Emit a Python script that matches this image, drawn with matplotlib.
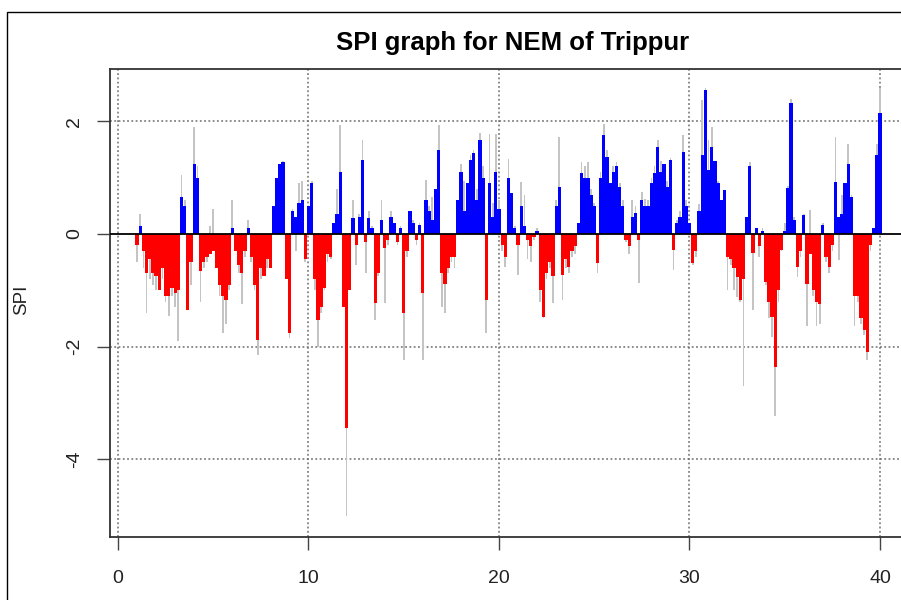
import matplotlib
matplotlib.use("Agg")
import matplotlib.pyplot as plt
from matplotlib.patches import Rectangle
import numpy as np

plt.rcParams['font.family'] = ['Liberation Sans', 'DejaVu Sans']

# SPI values, 6 per year starting at year 1.0 (colored series and grey series)
spi = [
    -0.2, 0.15, -0.3, -0.7, -0.45, -0.7,
    -0.75, -1.0, -0.6, -1.1, -1.1, -0.95,
    -1.05, -1.0, 0.65, 0.5, -1.35, -0.5,
    1.25, 1.0, -0.65, -0.5, -0.4, -0.35,
    -0.3, -0.6, -0.9, -1.1, -1.17, -0.9,
    0.1, -0.3, -0.55, -0.7, -0.3, 0.1,
    -0.4, -0.9, -1.88, -0.6, -0.75, -0.45,
    -0.6, 0.5, 1.0, 1.25, 1.28, -0.8,
    -1.76, 0.4, 0.3, 0.55, 0.6, -0.45,
    0.5, 0.9, -0.8, -1.53, -1.3, -0.95,
    -0.35, -0.4, 0.2, 0.35, 1.1, -1.3,
    -3.45, -1.0, 0.28, -0.2, 0.3, 1.31,
    -0.15, 0.28, 0.1, -1.23, -0.7, 0.25,
    -0.25, -0.1, 0.3, 0.2, -0.15, 0.1,
    -1.4, -0.3, 0.4, 0.2, -0.1, 0.16,
    -1.05, 0.6, 0.4, 0.25, 0.8, 1.5,
    -0.7, -0.88, -0.6, -0.4, -0.4, 0.6,
    1.1, 0.4, 0.9, 1.31, 1.43, 0.6,
    1.67, 1.0, -1.17, 0.9, 0.3, 1.1,
    0.45, -0.2, -0.4, 1.0, 0.72, 0.1,
    -0.2, 0.5, 0.15, -0.1, -0.22, -0.05,
    0.05, -1.0, -1.47, -0.7, -0.5, -0.75,
    0.5, 0.84, -0.73, -0.45, -0.58, -0.3,
    -0.22, 0.2, 1.08, 1.0, 1.0, 0.7,
    0.49, -0.52, 1.0, 1.76, 1.37, 0.9,
    1.1, 1.2, 0.84, 0.5, -0.1, -0.22,
    0.3, 0.37, -0.1, 0.6, 0.5, 0.49,
    0.9, 1.08, 1.55, 1.1, 1.25, 0.84,
    1.31, -0.28, 0.2, 0.3, 1.45, 0.5,
    0.19, -0.52, -0.3, 0.4, 1.4, 2.55,
    1.14, 1.55, 1.3, 0.9, 0.6, 0.78,
    -0.4, -0.45, -0.6, -0.76, -1.17, -0.8,
    0.3, 1.2, -0.34, 0.1, -0.22, 0.05,
    -0.85, -1.2, -1.47, -2.36, -1.0, -0.28,
    0.05, 0.81, 2.32, 0.25, -0.58, -0.3,
    0.34, -0.88, -0.35, -1.0, -1.2, -1.25,
    0.16, -0.4, -0.58, -0.2, 0.92, 0.3,
    0.35, 0.9, 1.25, 0.66, -1.1, -1.1,
    -1.5, -1.7, -2.1, -0.2, 0.1, 1.4,
    2.15,
]
spi_grey = [
    -0.5, 0.35, -0.6, -1.4, -0.8, -0.9,
    -1.0, -1.0, -0.8, -1.2, -1.45, -1.1,
    -1.3, -1.9, 1.05, 0.6, -1.35, -0.9,
    1.9, 1.2, -1.2, -0.6, -0.5, 0.15,
    0.45, -0.6, -1.1, -1.75, -1.6, -1.0,
    0.6, -0.3, -0.7, -1.25, -0.4, 0.25,
    -0.5, -1.0, -2.15, -0.8, -0.7, -0.6,
    -0.55, 0.5, 1.0, 1.25, 1.3, -0.8,
    -1.85, 0.45, -0.3, 0.9, 0.95, -0.5,
    0.5, 0.95, -1.0, -2.0, -1.4, -1.0,
    -0.5, -0.45, 0.2, 0.8, 1.93, -1.3,
    -5.0, -1.0, 0.6, -0.55, 0.35, 1.67,
    -0.7, 0.4, 0.15, -1.53, -0.75, 0.6,
    -1.23, -0.2, 0.4, 0.2, -0.2, 0.15,
    -2.24, -0.4, 0.4, 0.25, -0.2, 0.2,
    -2.24, 0.96, 0.5, 0.66, 0.8, 1.93,
    -1.3, -1.4, -0.7, -0.5, -0.6, 0.6,
    1.25, 0.95, 0.9, 1.4, 1.5, 0.8,
    1.8, 1.2, -1.76, 1.78, 0.55, 1.78,
    0.6, -0.3, -0.58, 1.34, 0.72, 0.15,
    -0.73, 0.93, 0.7, -0.45, -0.5, -0.1,
    0.1, -1.2, -1.5, -0.8, -0.6, -1.23,
    0.6, 1.73, -1.17, -0.6, -0.7, -0.4,
    -0.35, 0.2, 1.28, 1.2, 1.28, 0.8,
    0.55, -0.7, 1.1, 1.96, 1.5, 0.7,
    1.2, 1.28, 0.9, 0.6, -0.15, -0.35,
    0.6, 0.5, -0.87, 0.75, 0.63, 0.6,
    1.0, 1.2, 1.67, 1.3, 1.2, 0.95,
    1.35, -0.64, 0.25, 0.4, 1.75, 0.6,
    0.19, -0.55, -0.4, 0.54, 2.38, 2.6,
    1.67, 1.9, 1.3, 0.95, 0.55, 0.75,
    -1.0, -0.55, -1.0, -1.11, -1.2, -2.7,
    0.3, 1.28, -1.35, 0.1, -0.4, 0.1,
    -0.9, -1.5, -1.82, -3.24, -1.2, -0.3,
    0.2, 0.85, 2.4, 0.3, -0.76, -0.4,
    0.35, -1.64, 0.43, -1.1, -1.64, -1.6,
    0.2, -0.5, -0.7, -0.3, 1.72, -0.46,
    0.69, 0.9, 1.6, 0.7, -1.64, -1.2,
    -1.6, -1.8, -2.24, -0.3, 0.1, 1.6,
    2.6,
]
x_start = 1.0
step = 1.0 / 6.0
x_ticks = [0, 10, 20, 30, 40]
y_ticks = [-4, -2, 0, 2]
title = "SPI graph for NEM of Trippur"
ylabel = "SPI"

spi = np.array(spi)
spi_grey = np.array(spi_grey)
t = x_start + step * np.arange(len(spi))

W, H = 901, 600
fig = plt.figure(figsize=(W / 100, H / 100), dpi=100)
fig.patch.set_facecolor('white')

# outer frame of the picture
fig.add_artist(Rectangle((7 / W, -0.1), 2.0, 1 - 12 / H + 0.1, transform=fig.transFigure,
                         fill=False, ec='black', lw=1.0))

ax_l, ax_r, ax_t, ax_b = 110, 920, 69, 537
ax = fig.add_axes([ax_l / W, 1 - ax_b / H, (ax_r - ax_l) / W, (ax_b - ax_t) / H])
ax.set_xlim(-0.42, 42.1)
ax.set_ylim(-5.38, 2.93)

# grid
for xv in x_ticks:
    ax.axvline(xv, color='#6e6e6e', lw=1.1, linestyle=(0, (1.2, 1.6)), zorder=1)
for yv in y_ticks:
    if yv != 0:
        ax.axhline(yv, color='#6e6e6e', lw=1.1, linestyle=(0, (1.2, 1.6)), zorder=1)

ax.bar(t, spi_grey, width=0.09, color='#c4c4c4', linewidth=0, zorder=2)
colors = np.where(spi >= 0, '#0000ff', '#ff0000')
ax.bar(t, spi, width=step * 1.02, color=colors, linewidth=0, zorder=3)
ax.axhline(0, color='black', lw=1.3, zorder=4)

for s in ax.spines.values():
    s.set_color('#333333')
    s.set_linewidth(1.3)

ax.set_xticks(x_ticks)
ax.set_yticks(y_ticks)
ax.set_xticklabels([str(v) for v in x_ticks])
ax.set_yticklabels([str(v) for v in y_ticks], rotation=90, va='center')
ax.tick_params(axis='both', direction='out', length=9.5, width=1.0, color='#444444',
               labelsize=14, labelcolor='#222222')
ax.tick_params(axis='x', pad=14)
ax.tick_params(axis='y', pad=10)

fig.text(513 / W, 1 - 43 / H, title, ha='center', va='center', fontsize=18.5, fontweight='bold')
fig.text(22 / W, 1 - 300 / H, ylabel, ha='center', va='center', rotation=90, fontsize=13.5,
         color='#222222')

fig.savefig('out.png', dpi=100)
